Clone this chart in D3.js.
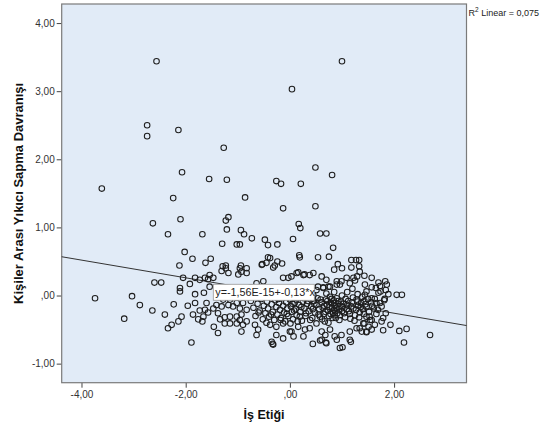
<!DOCTYPE html>
<html>
<head>
<meta charset="utf-8">
<script src="https://cdn.jsdelivr.net/npm/d3@7"></script>
<style>
  html, body { margin: 0; padding: 0; background: #fff; }
  svg { display: block; font-family: "Liberation Sans", Arial, sans-serif; }
</style>
</head>
<body>
<svg id="chart"></svg>
<script>
'use strict';

// tick values + the SPSS style labels
const xTicks = [-4, -2, 0, 2];
const xTickLabels = ['-4,00', '-2,00', ',00', '2,00'];
const yTicks = [4, 3, 2, 1, 0, -1];
const yTickLabels = ['4,00', '3,00', '2,00', '1,00', ',00', '-1,00'];

const xTitle = 'İş Etiği';
const yTitle = 'Kişiler Arası Yıkıcı Sapma Davranışı';
const r2Text = 'Linear = 0,075';
const fitText = 'y=-1,56E-15+-0,13*x';
const fitIntercept = 0;
const fitSlope = -0.13;

// points, [İş Etiği, Sapma]
const highPoints = [
  [-2.56, 3.44], [1.00, 3.44], [0.04, 3.03], [-2.74, 2.50], [-2.74, 2.34], [-2.14, 2.43],
  [-1.27, 2.17], [-3.61, 1.57], [-2.07, 1.81], [-1.55, 1.71], [-1.21, 1.70], [-0.26, 1.68],
  [-0.17, 1.64], [0.49, 1.88], [0.81, 1.77], [0.21, 1.64], [-2.24, 1.43], [-0.86, 1.44],
  [-0.13, 1.28], [0.49, 1.31], [-2.63, 1.06], [-2.10, 1.12], [-1.18, 1.15], [-1.23, 1.10],
  [-1.21, 0.97], [0.17, 1.05], [0.20, 0.99], [-2.34, 0.90], [-1.68, 0.90], [-0.94, 0.96],
  [-0.88, 0.90], [-0.73, 0.84], [0.06, 0.83], [0.58, 0.91], [0.70, 0.91], [-1.30, 0.76],
  [-1.02, 0.75], [-0.96, 0.75], [-0.48, 0.82], [-0.42, 0.74], [-0.24, 0.75], [0.83, 0.70]
];

const midPoints = [
  [-2.02, 0.64], [-1.87, 0.54], [-1.52, 0.54], [-1.62, 0.48], [-2.12, 0.44], [-1.29, 0.43],
  [-1.23, 0.44], [-0.94, 0.44], [-0.83, 0.40], [-0.53, 0.46], [-0.45, 0.48], [-0.42, 0.56],
  [-0.29, 0.44], [-0.24, 0.50], [0.18, 0.59], [0.19, 0.56], [0.54, 0.56], [0.75, 0.57],
  [0.92, 0.46], [1.18, 0.52], [1.27, 0.52], [1.33, 0.52], [1.33, 0.43], [1.18, 0.41],
  [-0.15, 0.47], [-0.38, 0.55], [-1.23, 0.40], [-1.31, 0.36], [-1.18, 0.33], [-0.96, 0.40],
  [-0.93, 0.35], [-0.99, 0.31], [-0.83, 0.33], [-2.60, 0.19], [-2.47, 0.19], [-2.05, 0.26],
  [-1.82, 0.26], [-1.73, 0.23], [-1.63, 0.26], [-1.54, 0.30], [-1.57, 0.24], [-1.47, 0.26],
  [-1.92, 0.17], [-2.11, 0.11], [-1.54, 0.13], [-0.54, 0.45], [-0.32, 0.41], [0.85, 0.38],
  [1.00, 0.40], [0.13, 0.33], [0.26, 0.30], [0.38, 0.30], [-0.03, 0.26], [0.03, 0.28],
  [0.61, 0.28], [0.70, 0.23], [0.90, 0.16], [0.99, 0.21], [1.09, 0.26], [1.15, 0.18],
  [1.25, 0.22], [0.54, 0.13], [0.64, 0.12], [0.77, 0.13], [-0.64, 0.18], [-0.51, 0.21],
  [-0.13, 0.26], [1.44, 0.16], [1.57, 0.12], [1.65, 0.11], [1.74, 0.06], [1.84, 0.08],
  [1.89, 0.02], [1.34, 0.35], [0.16, 0.34], [0.28, 0.31], [0.45, 0.33], [1.22, 0.26],
  [1.29, 0.28], [1.43, 0.29], [1.57, 0.26], [1.70, 0.19], [1.83, 0.21], [1.86, 0.16],
  [1.73, 0.14], [1.47, 0.06], [0.90, 0.21], [0.96, 0.16], [0.74, 0.13], [0.64, 0.11],
  [0.51, 0.08], [-1.20, 0.05], [-1.05, 0.10], [-0.90, 0.08], [-0.75, 0.12], [-0.70, 0.02],
  [-0.60, 0.05], [-0.45, 0.10], [-0.30, 0.07], [0.25, 0.05], [0.40, 0.02], [1.10, 0.05],
  [0.30, 0.08], [0.45, 0.00], [0.70, 0.03], [0.85, 0.05], [1.00, 0.00], [1.20, 0.10],
  [1.30, 0.02]
];

const leftPoints = [
  [-2.11, 0.06], [-1.82, 0.02], [-1.65, 0.04], [-2.88, -0.14], [-2.64, -0.22], [-2.23, -0.13],
  [-2.40, -0.28], [-1.96, -0.15], [-1.82, -0.11], [-1.60, -0.11], [-1.73, -0.22], [-1.63, -0.21],
  [-1.57, -0.25], [-2.27, -0.43], [-2.34, -0.48], [-2.14, -0.38], [-2.08, -0.31], [-1.86, -0.28],
  [-1.76, -0.35], [-1.66, -0.31], [-1.68, -0.38], [-1.89, -0.69], [-1.46, -0.46], [-1.38, -0.55],
  [-1.38, -0.26], [-1.34, -0.35], [-1.25, -0.32], [-1.47, -0.19], [-1.31, -0.16], [-1.41, -0.14],
  [-1.15, -0.31], [-1.02, -0.41], [-0.96, -0.36], [-0.90, -0.43], [-0.83, -0.38], [-0.93, -0.53],
  [-1.15, -0.41], [-1.25, -0.41], [-3.74, -0.04], [-3.03, -0.01], [-3.18, -0.34],
  [-1.28, -0.06], [-1.18, -0.14], [-1.15, -0.06], [-1.09, -0.16], [-1.02, -0.11], [-0.96, -0.19],
  [-0.90, -0.11], [-0.83, -0.21], [-0.93, -0.28], [-1.02, -0.31]
];

const densePoints = [
  [-0.75, -0.08], [-0.70, -0.18], [-0.66, -0.30], [-0.62, -0.12], [-0.58, -0.22], [-0.55, -0.05],
  [-0.52, -0.35], [-0.50, -0.15], [-0.47, -0.26], [-0.44, -0.09], [-0.42, -0.19], [-0.40, -0.31],
  [-0.37, -0.02], [-0.35, -0.13], [-0.33, -0.24], [-0.30, -0.36], [-0.28, -0.07], [-0.26, -0.17],
  [-0.24, -0.28], [-0.21, -0.11], [-0.19, -0.21], [-0.17, -0.33], [-0.15, -0.04], [-0.13, -0.15],
  [-0.11, -0.25], [-0.09, -0.38], [-0.07, -0.10], [-0.05, -0.19], [-0.03, -0.30], [0.00, -0.06],
  [0.02, -0.16], [0.04, -0.24], [0.06, -0.35], [0.09, -0.11], [0.11, -0.20], [0.13, -0.29],
  [0.16, -0.03], [0.18, -0.14], [0.20, -0.24], [0.23, -0.37], [0.25, -0.09], [0.28, -0.19],
  [0.30, -0.30], [0.33, -0.12], [0.36, -0.23], [0.38, -0.02], [0.41, -0.16], [0.43, -0.33],
  [0.46, -0.08], [0.48, -0.25], [0.51, -0.14], [0.53, -0.04], [0.56, -0.20], [0.58, -0.31],
  [0.61, -0.10], [0.63, -0.18], [0.65, -0.27], [0.67, -0.38], [0.69, -0.06], [0.71, -0.14],
  [0.73, -0.22], [0.75, -0.30], [0.77, -0.02], [0.79, -0.11], [0.81, -0.19], [0.83, -0.26],
  [0.84, -0.07], [0.86, -0.15], [0.87, -0.23], [0.88, -0.33], [0.90, -0.04], [0.92, -0.12],
  [0.94, -0.20], [0.96, -0.29], [0.98, -0.09], [1.01, -0.17], [1.04, -0.26], [1.07, -0.05],
  [1.10, -0.14], [1.13, -0.23], [1.16, -0.34], [1.19, -0.10], [1.22, -0.19], [1.25, -0.29],
  [1.28, -0.06], [1.31, -0.15], [1.34, -0.25], [1.37, -0.11], [1.40, -0.20], [1.43, -0.08],
  [1.47, -0.17], [1.52, -0.24], [1.56, -0.10], [1.61, -0.19], [1.66, -0.27], [1.81, -0.07],
  [1.73, -0.11], [1.79, -0.33], [1.54, -0.36]
];

// second pass over the darkest part of the cluster
const coreSpots = [
  [-0.60, -0.25], [-0.45, -0.40], [-0.36, -0.28], [-0.22, -0.05], [-0.18, -0.36], [-0.10, -0.02],
  [-0.06, -0.27], [0.01, -0.41], [0.05, -0.12], [0.08, -0.22], [0.12, -0.06], [0.15, -0.38],
  [0.19, -0.31], [0.22, -0.17], [0.27, -0.04], [0.31, -0.26], [0.35, -0.08], [0.39, -0.36],
  [0.44, -0.20], [0.47, -0.12], [0.55, -0.28], [0.59, -0.06], [0.62, -0.35], [0.66, -0.15],
  [0.68, -0.24], [0.72, -0.08], [0.74, -0.40], [0.76, -0.17], [0.78, -0.27], [0.80, -0.05],
  [0.82, -0.33], [0.85, -0.11], [0.85, -0.21], [0.86, -0.29], [0.89, -0.18], [0.91, -0.26],
  [0.93, -0.08], [0.95, -0.36], [0.97, -0.15], [1.00, -0.23], [1.03, -0.12], [1.06, -0.32],
  [1.09, -0.20], [1.12, -0.08], [1.15, -0.27], [1.18, -0.16], [1.21, -0.03], [1.24, -0.37],
  [1.27, -0.21], [1.30, -0.09], [1.33, -0.32], [1.36, -0.17], [1.39, -0.02], [1.42, -0.27],
  [1.45, -0.13], [1.50, -0.05], [1.53, -0.31], [1.58, -0.15], [1.63, -0.05], [1.69, -0.21]
];

const rightPoints = [
  [2.05, 0.01], [2.15, 0.01], [1.44, 0.01], [1.57, -0.04], [1.70, 0.04], [1.82, -0.05],
  [1.66, -0.11], [1.76, -0.16], [1.84, -0.26], [1.76, -0.38], [1.93, -0.43], [1.79, -0.51],
  [2.10, -0.52], [2.24, -0.49], [2.69, -0.58], [2.19, -0.69], [1.47, -0.31], [1.57, -0.36],
  [1.41, -0.41], [1.51, -0.46], [1.38, -0.53], [1.47, -0.54], [1.63, -0.43], [1.43, -0.41],
  [1.34, -0.48], [1.47, -0.53], [1.57, -0.50]
];

const lowPoints = [
  [1.01, -0.76], [1.17, -0.68], [0.44, -0.71], [0.58, -0.66], [0.69, -0.69], [-0.33, -0.71],
  [-0.67, -0.43], [-0.61, -0.50], [-0.64, -0.58], [-0.38, -0.43], [-0.26, -0.46], [-0.13, -0.41],
  [0.03, -0.53], [0.16, -0.46], [0.29, -0.50], [0.38, -0.48], [0.51, -0.41], [0.61, -0.53],
  [0.68, -0.58], [0.77, -0.50], [0.86, -0.60], [0.99, -0.58], [1.15, -0.53], [1.28, -0.48],
  [0.07, -0.60], [-0.35, -0.68], [-0.32, -0.72], [0.70, -0.70], [0.96, -0.77], [1.15, -0.65],
  [0.61, -0.65], [0.26, -0.60], [0.00, -0.53], [-0.13, -0.63], [-0.26, -0.58], [0.90, -0.65]
];

const points = [].concat(highPoints, midPoints, leftPoints, densePoints, coreSpots, rightPoints, lowPoints);

const width = 553;
const height = 432;
const margin = {top: 4, right: 86.5, bottom: 49.3, left: 61.7};

const x = d3.scaleLinear()
  .domain([-4.38, 3.39])
  .range([margin.left, width - margin.right]);
const y = d3.scaleLinear()
  .domain([-1.28, 4.28])
  .range([height - margin.bottom, margin.top]);

const svg = d3.select('#chart')
  .attr('width', width)
  .attr('height', height);

svg.append('rect')
  .attr('x', x.range()[0])
  .attr('y', y.range()[1])
  .attr('width', x.range()[1] - x.range()[0])
  .attr('height', y.range()[0] - y.range()[1])
  .attr('fill', '#e1ebf7');

// axes, ticks drawn outside the frame
const xAxis = svg.append('g')
  .attr('transform', 'translate(0,' + y.range()[0] + ')')
  .call(d3.axisBottom(x).tickValues(xTicks).tickSize(5).tickPadding(3)
    .tickFormat((d, i) => xTickLabels[i]));
const yAxis = svg.append('g')
  .attr('transform', 'translate(' + x.range()[0] + ',0)')
  .call(d3.axisLeft(y).tickValues(yTicks).tickSize(5).tickPadding(2)
    .tickFormat((d, i) => yTickLabels[i]));

[xAxis, yAxis].forEach(ax => {
  ax.select('.domain').remove();
  ax.selectAll('.tick line').attr('stroke', '#444');
  ax.selectAll('.tick text')
    .attr('fill', '#333')
    .style('font-size', '10px')
    .style('font-family', '"Liberation Sans", Arial, sans-serif');
});

svg.append('rect')
  .attr('x', x.range()[0])
  .attr('y', y.range()[1])
  .attr('width', x.range()[1] - x.range()[0])
  .attr('height', y.range()[0] - y.range()[1])
  .attr('fill', 'none')
  .attr('stroke', '#7a7a7a')
  .attr('stroke-width', 1.2);

// fit line
const xd = x.domain();
svg.append('line')
  .attr('x1', x(xd[0]))
  .attr('y1', y(fitIntercept + fitSlope * xd[0]))
  .attr('x2', x(xd[1]))
  .attr('y2', y(fitIntercept + fitSlope * xd[1]))
  .attr('stroke', '#333')
  .attr('stroke-width', 1);

svg.append('g')
  .selectAll('circle')
  .data(points)
  .enter().append('circle')
  .attr('cx', d => x(d[0]))
  .attr('cy', d => y(d[1]))
  .attr('r', 2.8)
  .attr('fill', 'none')
  .attr('stroke', '#1e1e1e')
  .attr('stroke-width', 1.05);

// equation label
const box = svg.append('g')
  .attr('transform', 'translate(' + x(-1.47) + ',' + y(0.165) + ')');
box.append('rect')
  .attr('width', 101)
  .attr('height', 16)
  .attr('fill', '#fff')
  .attr('stroke', '#999')
  .attr('stroke-width', 0.8);
box.append('text')
  .attr('x', 2)
  .attr('y', 12)
  .attr('fill', '#222')
  .style('font-size', '10.8px')
  .text(fitText);

// R2 note
const r2 = svg.append('text')
  .attr('x', x.range()[1] + 2)
  .attr('y', 16)
  .attr('fill', '#222')
  .style('font-size', '9px');
r2.append('tspan').text('R');
r2.append('tspan').attr('dy', -4).style('font-size', '6.5px').text('2');
r2.append('tspan').attr('dy', 4).text(' ' + r2Text);

svg.append('text')
  .attr('x', (x.range()[0] + x.range()[1]) / 2)
  .attr('y', 419)
  .attr('text-anchor', 'middle')
  .attr('font-weight', 'bold')
  .attr('fill', '#111')
  .style('font-size', '12.5px')
  .text(xTitle);

svg.append('text')
  .attr('transform', 'translate(23,' + (y.range()[0] + y.range()[1]) / 2 + ') rotate(-90)')
  .attr('text-anchor', 'middle')
  .attr('font-weight', 'bold')
  .attr('fill', '#111')
  .style('font-size', '13px')
  .text(yTitle);
</script>
</body>
</html>
